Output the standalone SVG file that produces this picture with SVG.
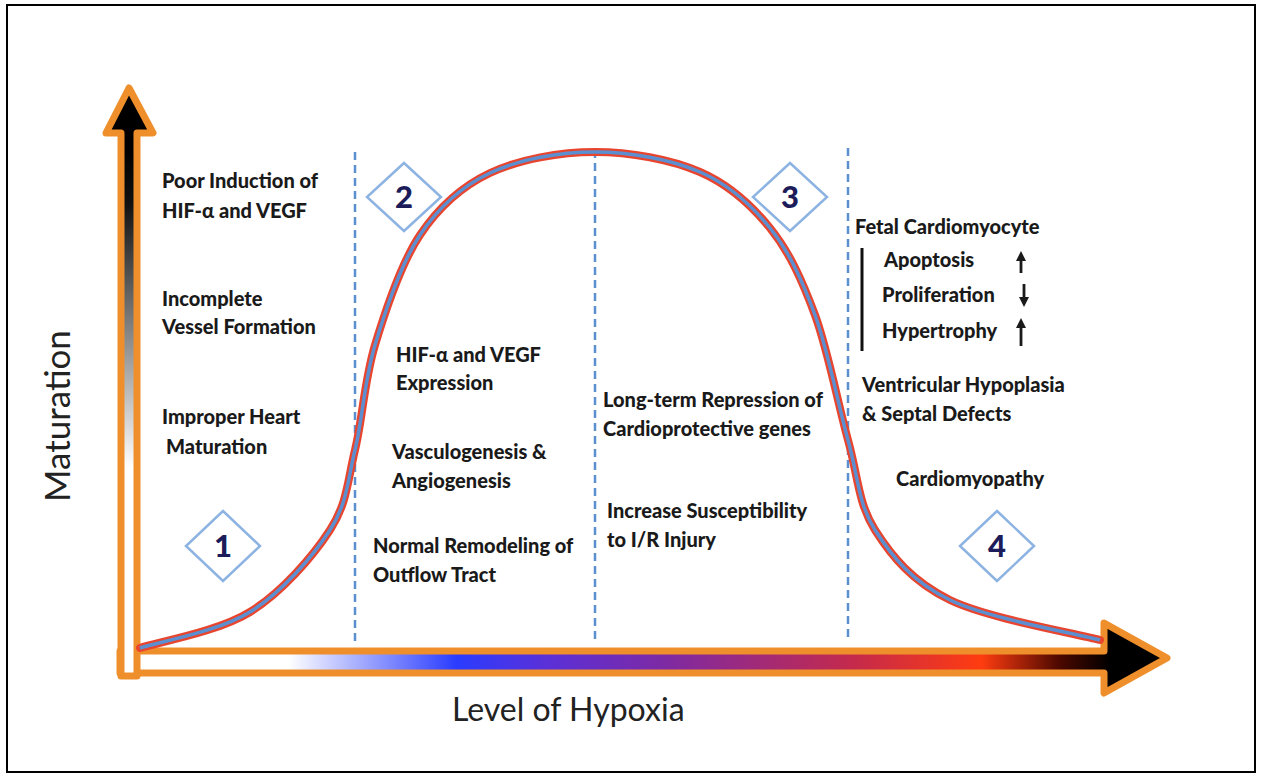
<svg xmlns="http://www.w3.org/2000/svg" width="1261" height="777" viewBox="0 0 1261 777">
<defs>
<linearGradient id="gV" x1="0" y1="150" x2="0" y2="680" gradientUnits="userSpaceOnUse">
<stop offset="0" stop-color="#000"/>
<stop offset="0.1" stop-color="#111"/>
<stop offset="0.6" stop-color="#fff"/>
<stop offset="1" stop-color="#fff"/>
</linearGradient>
<linearGradient id="gH" x1="120" y1="0" x2="1110" y2="0" gradientUnits="userSpaceOnUse">
<stop offset="0" stop-color="#fff"/>
<stop offset="0.17" stop-color="#fff"/>
<stop offset="0.34" stop-color="#2a3cff"/>
<stop offset="0.43" stop-color="#5a30d8"/>
<stop offset="0.54" stop-color="#7a2aa8"/>
<stop offset="0.74" stop-color="#c42a4c"/>
<stop offset="0.87" stop-color="#ff3c10"/>
<stop offset="0.95" stop-color="#4a0800"/>
<stop offset="1" stop-color="#000"/>
</linearGradient>
</defs>
<style>
.ax{stroke:#EF8F2C;stroke-width:7;stroke-linejoin:round}
.dash{fill:none;stroke:#5B8FD0;stroke-width:2.5;stroke-dasharray:8 5}
.dia{fill:#fff;stroke:#8DB3E2;stroke-width:2.5}
.num{font-family:Lato,"Liberation Sans",sans-serif;font-weight:900;font-size:31px;fill:#1C1C5A;text-anchor:middle}
.t{font-family:Lato,"Liberation Sans",sans-serif;font-weight:900;font-size:20px;fill:#1a1a1a}
.lab{font-family:Lato,"Open Sans",sans-serif;font-size:32px;fill:#222}
.arr{stroke:#1a1a1a;stroke-width:2.8;fill:none}
</style>
<rect x="7" y="5" width="1248" height="767" fill="#fff" stroke="#000" stroke-width="2"/>

<g id="axis-x">
<polygon class="ax" fill="url(#gH)" points="120,651 1104,651 1104,623 1167,658 1104,693 1104,673 120,673"/>
</g>
<g id="axis-y">
<polygon class="ax" fill="url(#gV)" points="129,88 153,133 137,133 137,676 121,676 121,133 106,133"/>
</g>

<g id="connectors">
<line class="dash" x1="355" y1="152" x2="355" y2="642"/>
<line class="dash" x1="595" y1="150" x2="595" y2="640"/>
<line class="dash" x1="848" y1="148" x2="848" y2="640"/>
</g>

<g id="curve" fill="none">
<path d="M140,648 C158.3,642 218.3,631.7 250,612 C281.7,592.3 312.5,557 330,530 C347.5,503 347.5,480.8 355,450 C362.5,419.2 364.2,380.8 375,345 C385.8,309.2 400.8,263.7 420,235 C439.2,206.3 460.8,186.8 490,173 C519.2,159.2 560,152 595,152 C630,152 670.8,159.3 700,172 C729.2,184.7 750.8,204.2 770,228 C789.2,251.8 802,279.7 815,315 C828,350.3 838,404.2 848,440 C858,475.8 858,503.3 875,530 C892,556.7 912.5,581.7 950,600 C987.5,618.3 1075,633.3 1100,640" stroke="#E8452F" stroke-width="8" stroke-linecap="round"/>
<path d="M140,648 C158.3,642 218.3,631.7 250,612 C281.7,592.3 312.5,557 330,530 C347.5,503 347.5,480.8 355,450 C362.5,419.2 364.2,380.8 375,345 C385.8,309.2 400.8,263.7 420,235 C439.2,206.3 460.8,186.8 490,173 C519.2,159.2 560,152 595,152 C630,152 670.8,159.3 700,172 C729.2,184.7 750.8,204.2 770,228 C789.2,251.8 802,279.7 815,315 C828,350.3 838,404.2 848,440 C858,475.8 858,503.3 875,530 C892,556.7 912.5,581.7 950,600 C987.5,618.3 1075,633.3 1100,640" stroke="#5B8FD0" stroke-width="3.5"/>
</g>

<g id="d1"><polygon class="dia" points="223,511 260,546 223,581 186,546"/><text class="num" x="223" y="557">1</text></g>
<g id="d2"><polygon class="dia" points="404,163 441,197 404,231 367,197"/><text class="num" x="404" y="208">2</text></g>
<g id="d3"><polygon class="dia" points="790,163 827,197 790,231 753,197"/><text class="num" x="790" y="208">3</text></g>
<g id="d4"><polygon class="dia" points="997,511 1034,546 997,581 960,546"/><text class="num" x="997" y="557">4</text></g>

<g id="region1">
<text class="t" x="162" y="188">Poor Induction of</text>
<text class="t" x="162" y="218">HIF-α and VEGF</text>
<text class="t" x="162" y="306">Incomplete</text>
<text class="t" x="162" y="334">Vessel Formation</text>
<text class="t" x="162" y="424">Improper Heart</text>
<text class="t" x="166" y="454">Maturation</text>
</g>

<g id="region2">
<text class="t" x="396" y="362">HIF-α and VEGF</text>
<text class="t" x="396" y="390">Expression</text>
<text class="t" x="392" y="459">Vasculogenesis &amp;</text>
<text class="t" x="392" y="488">Angiogenesis</text>
<text class="t" x="373" y="553">Normal Remodeling of</text>
<text class="t" x="373" y="582">Outflow Tract</text>
</g>

<g id="region3">
<text class="t" x="603" y="407">Long-term Repression of</text>
<text class="t" x="603" y="436">Cardioprotective genes</text>
<text class="t" x="607" y="518">Increase Susceptibility</text>
<text class="t" x="607" y="547">to I/R Injury</text>
</g>

<g id="region4">
<text class="t" x="855" y="234">Fetal Cardiomyocyte</text>
<line x1="862" y1="248" x2="862" y2="351" stroke="#111" stroke-width="3"/>
<text class="t" x="884" y="267">Apoptosis</text>
<text class="t" x="882" y="302">Proliferation</text>
<text class="t" x="882" y="338">Hypertrophy</text>
<g id="ind-up1"><line class="arr" x1="1021" y1="273" x2="1021" y2="258"/><polygon points="1016,261 1021,251 1026,261" fill="#1a1a1a"/></g>
<g id="ind-down"><line class="arr" x1="1024" y1="284" x2="1024" y2="300"/><polygon points="1019,297 1024,307 1029,297" fill="#1a1a1a"/></g>
<g id="ind-up2"><line class="arr" x1="1021" y1="346" x2="1021" y2="325"/><polygon points="1016,328 1021,318 1026,328" fill="#1a1a1a"/></g>
<text class="t" x="862" y="392">Ventricular Hypoplasia</text>
<text class="t" x="862" y="421">&amp; Septal Defects</text>
<text class="t" x="896" y="486">Cardiomyopathy</text>
</g>

<g id="labels">
<text class="lab" x="452" y="721">Level of Hypoxia</text>
<text class="lab" transform="translate(70,416) rotate(-90)" text-anchor="middle" style="font-size:35px">Maturation</text>
</g>
</svg>
